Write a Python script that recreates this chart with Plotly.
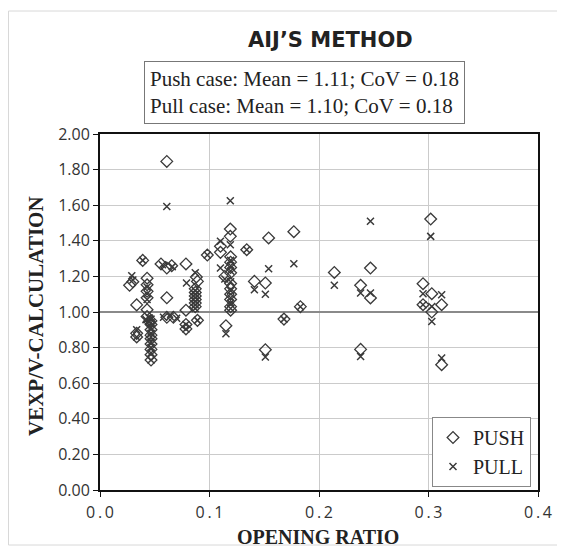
import plotly.graph_objects as go

# push case (diamonds)
push_x = [0.061, 0.119, 0.119, 0.110, 0.110, 0.098, 0.039, 0.134,
          0.0557, 0.061, 0.0655, 0.0785,
          0.027, 0.030, 0.0335,
          0.043, 0.043, 0.043, 0.043, 0.043, 0.043, 0.045,
          0.0335, 0.0335,
          0.0466, 0.0466, 0.0466, 0.0466, 0.0466, 0.0466, 0.0466, 0.0466, 0.0466,
          0.061, 0.061, 0.067, 0.0785, 0.0785, 0.0785, 0.089, 0.088, 0.089,
          0.087, 0.087, 0.087, 0.087, 0.087, 0.087,
          0.114,
          0.1193, 0.1193, 0.1193, 0.1193, 0.1193, 0.1193, 0.1193, 0.1193, 0.1193, 0.1193,
          0.115, 0.154, 0.177, 0.141, 0.151, 0.183, 0.168, 0.151,
          0.214, 0.247, 0.238, 0.247, 0.238,
          0.302, 0.295, 0.303, 0.295, 0.312, 0.303, 0.312]
push_y = [1.846, 1.466, 1.425, 1.369, 1.335, 1.32, 1.29, 1.35,
          1.27, 1.247, 1.26, 1.27,
          1.15, 1.17, 1.04,
          1.19, 1.153, 1.116, 1.08, 1.013, 0.975, 0.947,
          0.86, 0.88,
          0.95, 0.93, 0.90, 0.87, 0.85, 0.82, 0.79, 0.76, 0.73,
          1.08, 0.97, 0.97, 1.01, 0.93, 0.905, 0.953, 1.197, 1.172,
          1.13, 1.11, 1.09, 1.07, 1.05, 1.03,
          1.20,
          1.31, 1.28, 1.25, 1.22, 1.16, 1.13, 1.10, 1.07, 1.03, 1.01,
          0.923, 1.416, 1.451, 1.172, 1.163, 1.03, 0.96, 0.788,
          1.222, 1.247, 1.15, 1.079, 0.79,
          1.522, 1.159, 1.103, 1.041, 1.041, 1.0, 0.704]

# pull case (crosses)
pull_x = [0.061, 0.119, 0.110, 0.119, 0.098, 0.039, 0.134,
          0.057, 0.066, 0.029, 0.030,
          0.043, 0.043, 0.043, 0.045, 0.042, 0.045,
          0.0335, 0.0335,
          0.0466, 0.0466, 0.0466, 0.0466, 0.0466, 0.0466, 0.0466, 0.0466, 0.0466,
          0.058, 0.064, 0.070, 0.0785, 0.0785, 0.089, 0.079, 0.087,
          0.087, 0.087, 0.087, 0.087, 0.087, 0.087,
          0.110, 0.114,
          0.1193, 0.1193, 0.1193, 0.1193, 0.1193, 0.1193, 0.1193, 0.1193,
          0.115, 0.154, 0.177, 0.141, 0.151, 0.183, 0.168, 0.151,
          0.214, 0.247, 0.238, 0.247, 0.238,
          0.302, 0.295, 0.312, 0.295, 0.303, 0.303, 0.312]
pull_y = [1.593, 1.625, 1.397, 1.378, 1.32, 1.29, 1.35,
          1.265, 1.255, 1.204, 1.18,
          1.14, 1.103, 1.07, 0.966, 0.957, 0.947,
          0.90, 0.86,
          0.96, 0.94, 0.91, 0.88, 0.86, 0.83, 0.80, 0.77, 0.73,
          0.97, 0.975, 0.965, 0.93, 0.905, 0.953, 1.163, 1.22,
          1.12, 1.10, 1.08, 1.06, 1.04, 1.02,
          1.247, 1.185,
          1.29, 1.26, 1.23, 1.17, 1.12, 1.08, 1.05, 1.02,
          0.878, 1.243, 1.271, 1.125, 1.10, 1.03, 0.96, 0.747,
          1.15, 1.51, 1.107, 1.107, 0.75,
          1.425, 1.103, 1.097, 1.041, 1.031, 0.947, 0.742]

ref_x = [0.0, 0.4]
ref_y = [1.0, 1.0]

x_ticks = [0.0, 0.1, 0.2, 0.3, 0.4]
x_labels = ["0\u2009.\u20090", "0\u2009.\u20091", "0\u2009.\u20092", "0\u2009.\u20093", "0\u2009.\u20094"]

serif = "Liberation Serif"
sans = "Open Sans"

# page body adds an 8px margin; place things in window pixels
L, T, W, H = 100, 134, 438, 356
px = lambda sx: (sx - L) / W
py = lambda sy: (T + H - sy) / H

fig = go.Figure()
fig.add_trace(go.Scatter(x=ref_x, y=ref_y, mode="lines", showlegend=False,
                         line=dict(color="#8a8a8a", width=2), hoverinfo="skip"))
fig.add_trace(go.Scatter(x=push_x, y=push_y, mode="markers", name="PUSH",
                         marker=dict(symbol="diamond-open", size=9, color="#3a3a3a",
                                     line=dict(width=1.3, color="#3a3a3a"))))
fig.add_trace(go.Scatter(x=pull_x, y=pull_y, mode="markers", name="PULL",
                         marker=dict(symbol="x-thin-open", size=7, color="#3a3a3a",
                                     line=dict(width=1.5, color="#3a3a3a"))))

fig.update_layout(
    width=557, height=539,
    margin=dict(l=L - 8, r=557 - (L - 8 + W), t=T - 8, b=539 - (T - 8 + H)),
    paper_bgcolor="white", plot_bgcolor="white",
    showlegend=True,
    legend=dict(x=px(531), y=py(487), xanchor="right", yanchor="bottom",
                bordercolor="#888888", borderwidth=1, bgcolor="white",
                font=dict(family=serif, size=20, color="#222"),
                itemwidth=30),
    annotations=[
        dict(text="<b>AIJ’S METHOD</b>", x=px(330), y=py(40), xref="paper", yref="paper",
             xanchor="center", yanchor="middle",
             showarrow=False, font=dict(family="DejaVu Sans", size=21, color="#222")),
        dict(text="Push case: Mean = 1.11; CoV = 0.18<br>Pull case: Mean = 1.10; CoV = 0.18",
             x=px(304), y=py(92), xref="paper", yref="paper", showarrow=False, align="left",
             xanchor="center", yanchor="middle",
             bordercolor="#777777", borderwidth=1, borderpad=5, bgcolor="white",
             font=dict(family=serif, size=21, color="#222")),
        dict(text="<b>VEXP/V-CALCULATION</b>", x=px(36), y=py(316), xref="paper", yref="paper",
             xanchor="center", yanchor="middle",
             showarrow=False, textangle=-90, font=dict(family=serif, size=21, color="#222")),
        dict(text="<b>OPENING RATIO</b>", x=px(318), y=py(537), xref="paper", yref="paper",
             xanchor="center", yanchor="middle",
             showarrow=False, font=dict(family=serif, size=20, color="#222")),
    ],
    shapes=[
        dict(type="rect", xref="paper", yref="paper",
             x0=px(8.5), x1=px(558), y0=py(545), y1=py(11),
             line=dict(color="#d8d8d8", width=1)),
    ],
)
fig.update_xaxes(range=[0, 0.4], tickvals=x_ticks, ticktext=x_labels,
                 showgrid=True, gridcolor="#cbcbcb", gridwidth=1,
                 showline=True, linecolor="#111", linewidth=2, mirror=True,
                 ticks="outside", ticklen=5, tickcolor="#111", zeroline=False,
                 ticklabelstandoff=2,
                 tickfont=dict(family=sans, size=16, color="#333"))
fig.update_yaxes(range=[0, 2], dtick=0.2, tickformat=".2f",
                 showgrid=True, gridcolor="#cbcbcb", gridwidth=1,
                 showline=True, linecolor="#111", linewidth=2, mirror=True,
                 ticks="outside", ticklen=5, tickcolor="#111", zeroline=False,
                 tickfont=dict(family=sans, size=16, color="#333"))

fig.write_html("out.html")
